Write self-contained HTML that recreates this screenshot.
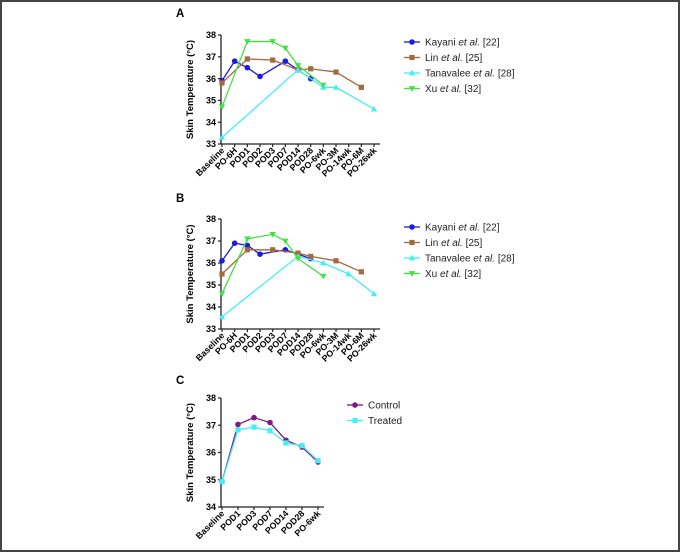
<!DOCTYPE html>
<html><head><meta charset="utf-8">
<style>
html,body{margin:0;padding:0;background:#fff;}
#wrap{position:relative;width:676px;height:548px;border:2px solid #444;background:#fff;}
svg{position:absolute;left:-2px;top:-2px;}
text{font-family:"Liberation Sans",Arial,sans-serif;}
</style></head>
<body>
<div id="wrap">
<svg id="fig" width="680" height="552"></svg>
</div>
<script>
// Panel A/B categories
const catsAB = ["Baseline","PO-6H","POD1","POD2","POD3","POD7","POD14","POD28","PO-6wk","PO-3M","PO-14wk","PO-6M","PO-26wk"];
const catsC = ["Baseline","POD1","POD3","POD7","POD14","POD28","PO-6wk"];
const seriesNames = ["Kayani","Lin","Tanavalee","Xu"];
const seriesRefs = ["[22]","[25]","[28]","[32]"];
// Panel A values (null = missing)
const aKayani = [35.9,36.8,36.5,36.1,null,36.8,36.4,36.0,null,null,null,null,null];
const aLin    = [35.8,null,36.9,null,36.85,null,36.4,36.45,null,36.3,null,35.6,null];
const aTana   = [33.3,null,null,null,null,null,36.4,null,35.6,35.6,null,null,34.6];
const aXu     = [34.7,null,37.7,null,37.7,37.4,36.6,null,35.7,null,null,null,null];
// Panel B values
const bKayani = [36.1,36.9,36.8,36.4,null,36.6,null,36.2,null,null,null,null,null];
const bLin    = [35.5,null,36.6,null,36.6,null,36.45,36.3,null,36.1,null,35.6,null];
const bTana   = [33.55,null,null,null,null,null,36.3,null,36.0,null,35.5,null,34.6];
const bXu     = [34.6,null,37.1,null,37.3,37.0,36.2,null,35.4,null,null,null,null];
// Panel C values
const cControl = [34.93,37.03,37.28,37.1,36.45,36.2,35.65];
const cTreated = [34.93,36.83,36.93,36.8,36.35,36.25,35.7];
const ticksAB = [33,34,35,36,37,38];
const ticksC = [34,35,36,37,38];

const NS="http://www.w3.org/2000/svg";
const svg=document.getElementById('fig');
function mk(tag,attrs,parent){const e=document.createElementNS(NS,tag);for(const k in attrs)e.setAttribute(k,attrs[k]);(parent||svg).appendChild(e);return e;}

const colors={Kayani:"#1c1ce0",Lin:"#a36a3e",Tanavalee:"#45eef5",Xu:"#45e045",Control:"#7d1a80",Treated:"#45eef5"};
const shapes={Kayani:"circle",Lin:"square",Tanavalee:"tri-up",Xu:"tri-down",Control:"circle",Treated:"square"};

function marker(g,shape,x,y,c){
  let e;
  if(shape==="circle") e=mk('circle',{cx:x,cy:y,r:2.8,fill:c},g);
  else if(shape==="square") e=mk('rect',{x:x-2.6,y:y-2.6,width:5.2,height:5.2,fill:c},g);
  else if(shape==="tri-up") e=mk('polygon',{points:`${x},${y-3.2} ${x-3.2},${y+2.4} ${x+3.2},${y+2.4}`,fill:c},g);
  else e=mk('polygon',{points:`${x},${y+3.2} ${x-3.2},${y-2.4} ${x+3.2},${y-2.4}`,fill:c},g);
  
  
}

function panel(opt){
  const g=mk('g',{});
  
  
  const {x0,step,yTop,yBot,vmin,vmax,cats,ticks,xEnd}=opt;
  const X=i=>x0+i*step;
  const Y=v=>yBot-(v-vmin)/(vmax-vmin)*(yBot-yTop);
  const lab=mk('text',{x:opt.labX,y:opt.labY,'font-size':11.5,'font-weight':'bold'},g);lab.textContent=opt.letter;
  
  
  const ya=mk('line',{x1:x0-1,y1:yTop,x2:x0-1,y2:yBot,stroke:'#222','stroke-width':1.3},g);
  
  const xa=mk('line',{x1:x0-1,y1:yBot,x2:xEnd,y2:yBot,stroke:'#222','stroke-width':1.3},g);
  
  ticks.forEach(t=>{
    mk('line',{x1:x0-4,y1:Y(t),x2:x0-1,y2:Y(t),stroke:'#222','stroke-width':1.2},g);
    const tx=mk('text',{x:x0-6,y:Y(t)+3.2,'font-size':9,'font-weight':'bold','text-anchor':'end'},g);
    tx.textContent=t;
    
    
  });
  cats.forEach((c,i)=>{
    mk('line',{x1:X(i),y1:yBot,x2:X(i),y2:yBot+3,stroke:'#222','stroke-width':1.2},g);
    const tx=mk('text',{x:X(i)+3,y:yBot+7,'font-size':8.8,'font-weight':'bold','text-anchor':'end',transform:`rotate(-45 ${X(i)+3} ${yBot+7})`},g);
    tx.textContent=c;
    
    
  });
  const cy=(yTop+yBot)/2;
  const yt=mk('text',{x:193,y:cy,'font-size':9.5,'font-weight':'bold','text-anchor':'middle',transform:`rotate(-90 193 ${cy})`},g);
  yt.textContent="Skin Temperature (°C)";
  
  
  opt.series.forEach(s=>{
    const pts=[];s.vals.forEach((v,i)=>{if(v!==null)pts.push([X(i),Y(v)]);});
    const pl=mk('polyline',{points:pts.map(p=>p.join(',')).join(' '),fill:'none',stroke:colors[s.key],'stroke-width':1.3},g);
    
    
    pts.forEach(p=>marker(g,shapes[s.key],p[0],p[1],colors[s.key]));
  });
  opt.legend.forEach((l,i)=>{
    const ly=opt.legY+i*opt.legStep;
    const lg=mk('g',{},g);
    
    
    mk('line',{x1:opt.legX-8,y1:ly,x2:opt.legX+8,y2:ly,stroke:colors[l.key],'stroke-width':1.3},lg);
    marker(lg,shapes[l.key],opt.legX,ly,colors[l.key]);
    const t=mk('text',{x:opt.legX+13,y:ly+3.5,'font-size':10,fill:'#222'},lg);
    if(l.italic){
      t.appendChild(document.createTextNode(l.label+" "));
      const ts=mk('tspan',{'font-style':'italic'},t);ts.textContent="et al.";
      t.appendChild(document.createTextNode(" "+l.ref));
    } else t.textContent=l.label;
  });
}
const legAB=seriesNames.map((n,i)=>({key:n,label:n,ref:seriesRefs[i],italic:true}));
panel({name:'panel-a',letter:'A',labX:176,labY:17,x0:222,step:12.67,yTop:35,yBot:144,vmin:33,vmax:38,cats:catsAB,ticks:ticksAB,xEnd:380,
  series:[{key:'Kayani',vals:aKayani},{key:'Lin',vals:aLin},{key:'Tanavalee',vals:aTana},{key:'Xu',vals:aXu}],
  legend:legAB,legX:412,legY:42,legStep:15.5});
panel({name:'panel-b',letter:'B',labX:176,labY:202,x0:222,step:12.67,yTop:219,yBot:329,vmin:33,vmax:38,cats:catsAB,ticks:ticksAB,xEnd:380,
  series:[{key:'Kayani',vals:bKayani},{key:'Lin',vals:bLin},{key:'Tanavalee',vals:bTana},{key:'Xu',vals:bXu}],
  legend:legAB,legX:412,legY:227,legStep:15.5});
panel({name:'panel-c',letter:'C',labX:176,labY:384,x0:222,step:16,yTop:398,yBot:507,vmin:34,vmax:38,cats:catsC,ticks:ticksC,xEnd:324,
  series:[{key:'Control',vals:cControl},{key:'Treated',vals:cTreated}],
  legend:[{key:'Control',label:'Control'},{key:'Treated',label:'Treated'}],legX:355,legY:405,legStep:15.5});
</script>
</body></html>
